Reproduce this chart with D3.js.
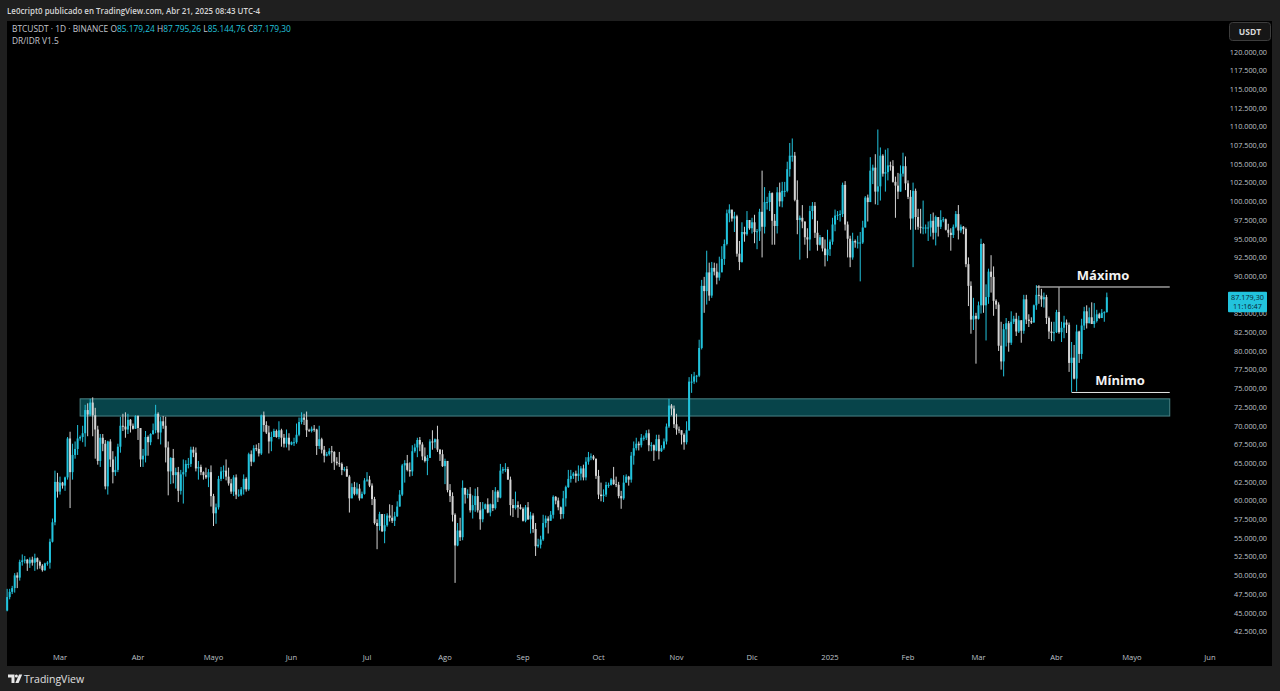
<!DOCTYPE html>
<html><head><meta charset="utf-8">
<script src="https://cdn.jsdelivr.net/npm/d3@7"></script>
<style>html,body{margin:0;padding:0;background:#1e1e1e;overflow:hidden}svg{display:block}</style>
</head><body><svg id="c" width="1280" height="691"></svg>
<script>
// ---------- DATA (prices in thousands of USDT, daily, starting 2024-02-09) ----------
const startDay = "2024-02-09";
const firstOpen = 45.3;
const closes = [
 47.1,47.8,48.3,50.0,49.7,51.8,52.0,52.1,51.6,52.1,51.7,52.3,51.8,51.3,50.7,51.6,51.7,54.5,57.1,62.5,61.2,
 62.4,62.0,63.1,68.3,63.8,66.1,66.9,68.3,68.5,69.0,72.1,71.5,73.1,71.4,69.5,65.3,68.4,67.6,61.9,67.9,65.5,63.8,64.1,67.2,70.0,69.9,69.5,70.8,70.0,69.6,71.3,
 69.7,65.5,66.0,68.5,67.8,68.9,69.4,71.6,69.1,70.6,70.0,67.1,63.9,65.7,63.4,63.8,61.3,63.5,63.8,64.9,64.9,66.8,66.4,64.3,64.5,63.8,63.4,63.1,63.8,60.6,
 58.3,59.1,62.9,63.9,64.0,63.2,62.3,61.2,63.1,60.8,60.8,61.5,62.9,61.5,66.2,65.2,67.0,66.9,66.3,71.4,70.1,69.1,67.9,68.5,69.3,68.5,69.4,68.4,67.6,68.4,67.5,
 67.8,67.8,68.8,70.5,71.1,70.8,69.4,69.3,69.6,69.5,67.3,68.2,66.8,66.0,66.2,66.6,66.5,65.2,65.0,64.9,64.1,64.2,63.2,60.3,61.8,60.9,61.6,60.3,60.9,62.7,
 62.8,62.0,60.2,57.0,56.6,58.2,55.9,56.7,58.0,57.7,57.3,57.9,59.2,60.8,64.7,65.0,64.1,63.9,66.6,67.1,68.1,67.5,65.9,65.3,65.7,67.9,67.8,68.2,66.8,66.2,64.6,
 65.3,61.4,60.6,58.1,54.0,56.0,55.1,61.7,60.8,60.9,58.7,59.4,60.6,58.7,57.5,58.9,59.5,58.4,59.5,59.0,61.2,60.4,64.0,64.2,64.2,62.8,59.4,59.0,59.4,59.1,58.9,
 57.3,59.1,57.5,58.0,56.2,53.9,54.1,54.8,57.0,57.6,57.3,58.1,60.5,60.0,59.1,58.2,60.3,61.8,62.9,63.3,63.6,63.3,63.6,64.3,63.1,65.2,65.8,65.9,65.6,63.3,
 60.8,60.6,60.8,62.1,62.1,62.8,62.2,62.1,60.6,60.3,62.4,63.2,62.8,66.0,67.0,67.6,67.4,68.4,68.4,69.0,67.4,67.4,66.7,68.2,66.6,67.0,67.9,69.9,72.7,72.3,70.2,
 69.5,69.4,68.8,67.8,69.4,75.9,75.9,76.6,76.7,80.4,88.7,88.0,90.5,87.4,91.1,90.6,89.8,90.5,92.3,94.3,98.4,98.9,97.7,98.0,93.0,91.9,95.9,95.6,97.5,96.4,
 97.2,95.9,96.0,98.6,96.6,99.9,99.9,101.1,97.4,96.7,101.2,100.0,101.4,101.4,104.3,106.1,106.1,100.2,97.5,97.8,97.3,95.2,94.9,98.7,99.4,95.8,94.2,95.2,93.7,92.8,93.6,
 94.6,96.9,98.1,98.2,98.3,102.2,96.9,95.0,92.5,94.7,94.5,94.5,94.5,96.5,100.5,99.9,104.1,104.5,101.3,102.0,106.1,103.7,103.9,104.8,104.7,102.6,102.1,101.3,103.7,104.7,102.4,
 100.6,97.7,101.4,97.9,96.6,96.5,96.5,96.5,96.5,97.4,95.8,97.9,96.6,97.5,97.6,96.2,95.8,95.5,96.6,98.3,96.1,96.6,96.3,91.6,88.7,84.2,84.7,84.3,
 86.1,94.3,86.1,87.2,90.6,89.9,86.7,86.2,80.7,78.6,82.9,83.7,81.1,83.9,84.3,82.6,84.1,82.7,86.9,84.2,84.0,83.8,86.1,87.5,87.4,86.9,87.2,84.4,82.6,82.4,82.5,
 85.2,82.5,83.1,83.8,83.5,78.4,79.1,76.3,82.6,79.6,83.4,85.3,83.7,84.5,83.6,84.0,84.9,84.4,85.1,85.18,87.18
];
const highs = [
 48.2,48.2,48.6,50.3,50.4,52.1,52.8,52.6,52.2,52.4,52.5,52.9,52.4,52.0,51.5,51.7,51.9,54.9,57.6,64.0,63.7,
 63.2,62.5,63.2,68.5,69.2,67.6,67.9,70.1,68.7,70.0,72.8,73.0,73.6,73.8,72.4,70.0,68.9,68.9,68.1,68.0,68.2,66.6,65.9,67.6,71.2,71.6,71.8,71.6,70.9,70.3,71.4,
 71.4,69.7,66.9,69.3,68.7,69.0,70.3,72.8,71.8,71.2,71.3,71.2,67.9,65.8,66.9,64.4,64.5,64.1,65.5,65.4,65.7,67.2,67.2,67.1,65.3,64.8,63.9,64.4,64.2,64.7,
 60.9,59.6,63.3,64.5,64.7,65.5,64.4,62.9,63.4,63.5,61.5,61.8,63.5,63.1,66.4,66.7,67.4,67.5,67.7,71.5,71.9,70.6,70.0,69.2,69.6,69.5,70.6,69.6,68.9,69.5,69.0,
 67.9,68.4,70.3,71.1,71.8,71.6,71.9,69.6,69.9,70.1,69.6,70.0,68.4,67.3,66.5,67.0,67.3,66.6,65.8,66.5,65.1,64.5,64.6,63.4,62.3,62.5,62.4,62.2,61.2,63.0,
 63.8,63.3,62.3,60.5,57.5,58.5,58.2,58.2,58.3,59.5,59.4,58.5,59.9,61.4,64.9,65.4,66.1,65.1,67.4,67.6,68.4,68.5,67.8,67.1,66.1,68.2,69.4,68.3,70.0,66.9,66.8,
 65.6,65.0,62.2,61.1,58.3,57.0,57.7,62.7,61.7,61.5,61.8,60.7,61.6,61.8,59.8,59.8,59.6,60.3,59.6,61.4,61.8,61.4,64.9,64.5,65.0,64.5,63.2,60.2,61.2,59.9,59.5,
 59.1,59.4,59.8,58.5,58.3,57.0,54.9,55.3,58.1,58.0,57.9,58.6,60.7,60.6,60.4,59.2,61.3,62.0,64.1,64.1,63.8,64.0,64.7,64.6,64.8,65.8,66.5,66.3,66.1,65.6,
 64.1,62.4,61.5,62.5,62.4,63.0,64.5,63.2,62.5,61.3,63.4,63.5,63.3,66.5,67.9,68.4,67.9,68.9,68.7,69.4,69.5,67.8,67.5,68.8,68.8,67.4,68.3,70.3,73.6,72.9,72.7,
 71.6,69.9,69.4,69.0,70.6,76.5,76.9,77.2,76.8,81.5,89.5,89.9,93.4,91.8,91.9,91.8,91.7,92.6,94.0,94.9,98.9,99.6,98.8,98.6,98.2,94.7,97.2,96.6,98.7,97.5,
 97.8,98.2,96.3,99.0,104.1,101.9,100.6,101.4,101.2,98.3,101.9,102.5,102.6,102.6,105.3,107.8,108.4,106.6,102.8,98.1,99.5,97.3,96.4,99.4,99.9,99.9,97.4,95.5,95.2,94.9,96.2,
 94.9,97.8,98.9,98.7,98.8,102.5,102.7,97.3,95.4,95.8,94.9,95.4,95.9,97.4,100.7,100.9,105.9,104.9,106.3,109.6,107.2,106.3,106.9,107.1,105.3,105.5,103.3,103.8,104.8,106.5,106.0,
 102.8,101.5,102.5,101.7,99.0,99.0,100.1,96.9,97.3,98.3,98.5,98.1,97.8,98.8,97.9,97.7,97.0,96.4,96.9,98.7,99.5,96.9,96.7,96.5,92.5,89.3,87.1,85.1,
 86.6,95.0,94.4,88.9,91.0,92.8,91.3,86.9,86.5,83.9,83.6,84.4,84.0,85.3,84.7,85.1,84.7,84.1,87.5,87.5,84.9,84.5,86.2,88.8,88.8,88.3,87.8,87.5,84.6,83.9,83.9,
 85.5,88.5,83.9,84.7,84.2,83.8,81.2,80.8,83.5,82.7,84.3,85.9,86.1,85.8,86.5,86.4,85.5,85.1,85.6,85.3,87.8
];
const lows = [
 45.2,46.8,47.5,47.7,48.3,49.3,51.3,51.6,50.6,51.0,51.3,50.6,50.8,50.9,50.5,50.6,51.3,50.9,54.4,56.7,60.4,
 60.8,61.6,61.3,62.8,59.0,62.8,65.6,66.1,68.0,67.8,67.2,68.6,71.3,68.6,65.6,64.8,64.5,66.6,61.5,60.8,64.5,62.3,63.3,63.8,66.4,69.3,68.4,68.9,69.1,69.5,69.6,
 68.1,64.5,64.5,65.1,66.0,67.4,68.8,69.0,68.2,67.5,69.6,65.1,60.7,62.2,62.3,61.6,59.8,60.8,59.6,63.2,64.3,64.5,65.8,63.9,62.8,63.4,62.8,62.9,61.8,59.2,
 56.6,56.9,58.8,62.6,62.9,62.7,62.0,60.9,60.6,60.2,60.5,60.6,60.8,61.2,61.3,64.6,65.1,66.6,65.9,66.1,69.2,68.9,66.3,66.6,68.5,68.4,68.2,67.2,67.1,67.1,66.7,
 67.4,67.3,67.6,68.6,70.2,70.1,68.5,69.2,69.1,69.2,66.1,66.9,66.3,65.1,65.9,66.0,65.0,64.1,64.7,64.5,63.4,63.9,63.2,58.4,60.3,60.7,60.7,60.0,60.3,60.8,
 62.5,61.8,59.4,56.8,53.5,56.0,55.8,54.3,56.5,57.2,57.0,56.6,57.8,59.2,60.6,62.4,63.9,63.2,63.3,66.4,65.8,66.6,65.4,65.1,63.4,65.7,66.8,67.0,66.5,65.3,64.5,
 62.2,61.1,59.8,57.2,49.0,53.9,54.6,54.7,59.6,60.3,58.4,57.6,58.5,58.4,56.1,57.1,58.8,58.3,57.9,58.6,58.8,59.8,60.3,63.6,63.8,62.8,58.0,57.8,58.8,57.7,58.8,
 57.2,57.1,57.4,55.6,55.7,52.6,53.7,53.6,54.6,56.4,55.6,57.3,57.6,59.5,58.7,57.5,57.6,59.2,61.7,62.4,62.9,62.4,62.6,62.7,62.7,62.7,64.8,65.4,65.4,62.9,
 60.2,59.9,59.8,60.5,61.7,62.0,62.1,61.8,60.3,58.9,60.1,62.4,62.0,62.4,64.8,66.7,66.7,67.1,68.0,68.1,66.6,66.6,65.3,66.6,65.5,66.5,66.8,67.5,69.7,71.4,69.7,
 68.8,69.0,67.5,66.8,67.5,69.3,74.4,75.6,75.8,76.5,80.2,85.1,86.2,86.7,87.1,90.1,88.9,89.4,90.9,91.5,94.1,97.2,97.3,95.9,92.6,90.8,91.8,94.6,95.4,96.2,
 95.7,94.4,93.6,94.7,92.5,95.7,98.9,98.7,94.2,94.2,95.7,99.3,99.2,100.6,101.2,103.3,105.3,100.0,95.6,92.2,96.4,94.2,92.4,93.4,97.6,95.1,93.4,94.1,93.3,91.3,92.0,
 92.7,94.2,96.0,97.5,97.3,97.9,96.1,92.5,91.2,92.2,93.8,93.7,89.3,94.3,96.5,97.3,99.9,102.3,99.6,99.5,100.1,103.3,101.3,102.8,104.1,102.5,97.8,100.3,101.3,103.3,101.5,
 100.3,96.2,91.2,96.2,96.2,95.7,95.6,95.7,94.7,95.3,94.9,94.1,95.3,96.3,97.2,96.1,95.2,93.4,95.1,96.4,94.9,95.8,95.6,91.2,86.0,82.3,82.8,78.3,
 84.2,85.0,85.1,81.4,86.3,87.8,84.7,85.6,80.0,77.5,76.6,80.6,79.9,80.8,83.6,82.0,82.4,81.1,82.3,83.6,83.2,83.6,83.8,85.5,86.3,85.9,85.8,83.6,81.6,81.3,81.3,
 82.4,82.3,81.2,81.7,82.4,77.2,74.5,76.2,74.6,78.4,78.9,82.8,83.0,83.7,83.6,83.1,83.8,84.3,84.4,83.9,85.14
];
const monthLabels = ["Mar","Abr","Mayo","Jun","Jul","Ago","Sep","Oct","Nov","Dic","2025","Feb","Mar","Abr","Mayo","Jun"];
const firstMonthTick = "2024-03-01";
const zoneTop = 73.6, zoneBottom = 71.3, zoneStart = "2024-03-09", zoneEnd = "2025-05-16";
const maxLevel = 88.55, maxStart = "2025-03-24";
const minLevel = 74.45, minStart = "2025-04-07";
const headerText = "Le0cript0 publicado en TradingView.com, Abr 21, 2025 08:43 UTC-4";
const ohlcLast = {O:"85.179,24", H:"87.795,26", L:"85.144,76", C:"87.179,30"};
const lastPriceLabel = "87.179,30", countdown = "11:16:47";

// ---------- BUILD ----------
const DAY = 86400000;
const t0 = Date.parse(startDay + "T00:00:00Z");
const candles = closes.map((c, i) => ({
  date: new Date(t0 + i * DAY),
  open: i === 0 ? firstOpen : closes[i - 1],
  high: highs[i], low: lows[i], close: c
}));

const svg = d3.select("#c");
const W = 1280, H = 691;
const FONT = "'Open Sans','Noto Sans',sans-serif";
const UP = "#22c3dd", DOWN = "#d4d4d4";

svg.append("rect").attr("width", W).attr("height", H).attr("fill", "#1f1f1f");
svg.append("rect").attr("x", 7).attr("y", 21).attr("width", 1265).attr("height", 645).attr("fill", "#000");

const x = d3.scaleUtc().domain([new Date("2024-03-01T00:00:00Z"), new Date("2025-06-01T00:00:00Z")]).range([60, 1210]);
const y = d3.scaleLinear().domain([42.5, 120]).range([631.5, 51.7]);

const loc = d3.formatLocale({decimal: ",", thousands: ".", grouping: [3], currency: ["", ""]});
const fmt = loc.format(",.2f");

// zone
const zd0 = new Date(zoneStart + "T00:00:00Z"), zd1 = new Date(zoneEnd + "T00:00:00Z");
svg.append("rect")
  .attr("x", x(zd0)).attr("y", y(zoneTop))
  .attr("width", x(zd1) - x(zd0)).attr("height", y(zoneBottom) - y(zoneTop))
  .attr("fill", "#07444a").attr("stroke", "#4a8386").attr("stroke-width", 1);

// candles
const cg = svg.append("g");
cg.selectAll("line").data(candles).join("line")
  .attr("x1", d => x(d.date)).attr("x2", d => x(d.date))
  .attr("y1", d => y(d.high)).attr("y2", d => y(d.low))
  .attr("stroke", d => d.close >= d.open ? UP : DOWN).attr("stroke-width", 1);
cg.selectAll("rect").data(candles).join("rect")
  .attr("x", d => x(d.date) - 1).attr("width", 2)
  .attr("y", d => y(Math.max(d.open, d.close)))
  .attr("height", d => Math.max(1, Math.abs(y(d.open) - y(d.close))))
  .attr("fill", d => d.close >= d.open ? UP : DOWN);

// Máximo / Mínimo levels
const lvl = [
  {v: maxLevel, s: maxStart, label: "Máximo", dy: -7, cx: 1103},
  {v: minLevel, s: minStart, label: "Mínimo", dy: -7, cx: 1120}
];
lvl.forEach(l => {
  svg.append("line").attr("x1", x(new Date(l.s + "T00:00:00Z"))).attr("x2", x(zd1))
    .attr("y1", y(l.v)).attr("y2", y(l.v)).attr("stroke", "#e6e6e6").attr("stroke-width", 1);
  svg.append("text").attr("x", l.cx).attr("y", y(l.v) + l.dy).attr("text-anchor", "middle")
    .attr("font-family", FONT).attr("font-weight", 700).attr("font-size", 13).attr("fill", "#f2f2f2").text(l.label);
});

// y axis (ticks hidden behind the last-price label are skipped, as in the reference)
const lp = y(closes[closes.length - 1]);
const yTicks = d3.range(42.5, 120.001, 2.5).filter(d => Math.abs(y(d) - lp) > 6);
svg.append("g").selectAll("text").data(yTicks).join("text")
  .attr("x", 1267).attr("y", d => y(d) + 2.8).attr("text-anchor", "end")
  .attr("font-family", FONT).attr("font-size", 7.3).attr("fill", "#bfc2c9")
  .text(d => fmt(d * 1000));

// x axis
const mt0 = new Date(firstMonthTick + "T00:00:00Z");
const xTicks = monthLabels.map((lab, i) => ({lab, date: d3.utcMonth.offset(mt0, i)}));
svg.append("g").selectAll("text").data(xTicks).join("text")
  .attr("x", d => x(d.date)).attr("y", 660).attr("text-anchor", "middle")
  .attr("font-family", FONT).attr("font-size", 7.6).attr("fill", "#bfc2c9")
  .text(d => d.lab);

// last price label
svg.append("rect").attr("x", 1228).attr("y", lp - 5.5).attr("width", 39).attr("height", 20.5).attr("rx", 1).attr("fill", "#22c3dd");
svg.append("text").attr("x", 1247.5).attr("y", lp + 2.3).attr("text-anchor", "middle")
  .attr("font-family", FONT).attr("font-size", 7.3).attr("fill", "#0b2530").text(lastPriceLabel);
svg.append("text").attr("x", 1247.5).attr("y", lp + 11.6).attr("text-anchor", "middle")
  .attr("font-family", FONT).attr("font-size", 7.3).attr("fill", "#0b2530").text(countdown);

// USDT box
svg.append("rect").attr("x", 1229.5).attr("y", 22.5).attr("width", 41).attr("height", 18).attr("rx", 3)
  .attr("fill", "#161616").attr("stroke", "#3d3d3d");
svg.append("text").attr("x", 1250).attr("y", 34.5).attr("text-anchor", "middle")
  .attr("font-family", FONT).attr("font-weight", 700).attr("font-size", 8.5).attr("fill", "#d8d8d8").text("USDT");

// header
svg.append("text").attr("x", 7).attr("y", 14).attr("font-family", FONT).attr("font-size", 9.6)
  .attr("font-weight", 600).attr("fill", "#d6d6d6")
  .attr("textLength", 253).attr("lengthAdjust", "spacingAndGlyphs").text(headerText);
const sym = svg.append("text").attr("x", 12).attr("y", 32).attr("font-family", FONT).attr("font-size", 8.4).attr("fill", "#c4c7ce");
sym.append("tspan").text("BTCUSDT · 1D · BINANCE  ");
Object.entries(ohlcLast).forEach(([k, v]) => {
  sym.append("tspan").attr("fill", "#c4c7ce").text(" " + k);
  sym.append("tspan").attr("fill", UP).text(v + " ");
});
svg.append("text").attr("x", 12).attr("y", 44).attr("font-family", FONT).attr("font-size", 8.4).attr("fill", "#c4c7ce").text("DR/IDR V1.5");

// footer logo
const lg = svg.append("g").attr("fill", "#e8e8e8");
lg.append("path").attr("d", "M8 674.5h6.5v8.5h-3v-5.5h-3.5z");
lg.append("circle").attr("cx", 16.4).attr("cy", 676).attr("r", 1.5);
lg.append("path").attr("d", "M19 674.5h3.2l-3.6 8.5h-3.3z");
svg.append("text").attr("x", 24).attr("y", 683).attr("font-family", FONT).attr("font-size", 10.5)
  .attr("fill", "#e0e0e0").text("TradingView");
</script></body></html>
